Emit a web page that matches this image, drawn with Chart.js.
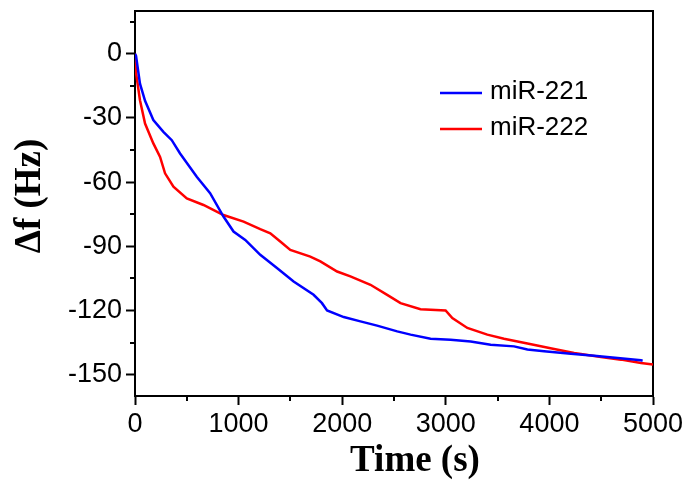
<!DOCTYPE html>
<html>
<head>
<meta charset="utf-8">
<script src="https://cdn.jsdelivr.net/npm/chart.js@4.4.1/dist/chart.umd.min.js"></script>
<style>
  html, body { margin: 0; padding: 0; background: #fff; }
  #wrap { width: 686px; height: 481px; }
</style>
</head>
<body>
<div id="wrap"><canvas id="qcm"></canvas></div>
<script>
// frequency shift vs time
const seriesNames = ['miR-221', 'miR-222'];
const seriesColors = ['#0000ff', '#ff0000'];

const timeA = [0, 10, 48, 97, 177, 274, 355, 435, 596, 725, 854, 951, 1064, 1209, 1370, 1531,
  1724, 1805, 1854, 2015, 2176, 2337, 2531, 2660, 2853, 3046, 3240, 3433, 3659, 3788, 3949,
  4207, 4433, 4659, 4884, 4900];
const shiftA = [0, -1, -14, -22, -31, -36.5, -40.4, -46.6, -57.5, -65.2, -76.1, -83.1, -87, -94,
  -100.2, -106.5, -112.7, -116.6, -120, -123.1, -125.1, -127.1, -129.8, -131.3, -133.2, -133.7,
  -134.5, -136, -136.8, -138.3, -139.1, -140.2, -141.2, -142.2, -143.3, -143.5];

const timeB = [0, 10, 48, 97, 177, 242, 290, 371, 500, 661, 854, 1048, 1209, 1306, 1402, 1499,
  1692, 1789, 1951, 2079, 2273, 2434, 2563, 2756, 2998, 3063, 3208, 3401, 3562, 3788, 4046,
  4239, 4497, 4691, 4884, 5000];
const shiftB = [0, -9, -21.7, -32.6, -41.9, -48.2, -55.9, -62.1, -67.6, -70.7, -75.4, -78.5, -82,
  -83.9, -87.8, -91.7, -94.8, -97.1, -101.8, -104.1, -108, -112.7, -116.6, -119.4, -120, -123.6,
  -128.2, -131.3, -133.2, -135.5, -138, -139.9, -141.8, -143, -144.6, -145.3];

// major (labelled) and minor ticks
const xTicks = [0, 1000, 2000, 3000, 4000, 5000];
const xMinor = [500, 1500, 2500, 3500, 4500];
const yTicks = [-150, -120, -90, -60, -30, 0];
const yMinor = [-135, -105, -75, -45, -15, 15];

const xTitle = 'Time (s)';
const yTitle = 'Δf (Hz)';

function pts(xs, ys) {
  return xs.map((x, i) => ({ x: x, y: ys[i] }));
}

const tickFont = { family: 'Liberation Sans, Arial, sans-serif', size: 27 };
const titleFont = 'bold 37px "Liberation Serif", "Times New Roman", serif';

// short minor ticks, axis titles and the legend box
const decor = {
  id: 'decor',
  afterDraw(chart) {
    const ctx = chart.ctx;
    const area = chart.chartArea;
    const xs = chart.scales.x, ys = chart.scales.y;
    ctx.save();
    ctx.strokeStyle = '#000';
    ctx.lineWidth = 2;
    xMinor.forEach((v) => {
      const px = Math.round(xs.getPixelForValue(v));
      ctx.beginPath();
      ctx.moveTo(px, area.bottom);
      ctx.lineTo(px, area.bottom + 5);
      ctx.stroke();
    });
    yMinor.forEach((v) => {
      const py = Math.round(ys.getPixelForValue(v));
      ctx.beginPath();
      ctx.moveTo(area.left - 5, py);
      ctx.lineTo(area.left, py);
      ctx.stroke();
    });

    ctx.fillStyle = '#000';
    ctx.font = titleFont;
    ctx.textAlign = 'center';
    ctx.textBaseline = 'middle';
    ctx.fillText(xTitle, 415, 461);
    ctx.save();
    ctx.translate(30, 196);
    ctx.rotate(-Math.PI / 2);
    ctx.fillText(yTitle, 0, 0);
    ctx.restore();

    ctx.font = '26px "Liberation Sans", Arial, sans-serif';
    ctx.textAlign = 'left';
    ctx.textBaseline = 'alphabetic';
    chart.data.datasets.forEach((ds, i) => {
      const ly = 93 + i * 36;
      ctx.strokeStyle = ds.borderColor;
      ctx.lineWidth = 2.5;
      ctx.beginPath();
      ctx.moveTo(440, ly);
      ctx.lineTo(482, ly);
      ctx.stroke();
      ctx.fillText(ds.label, 490, ly + 6);
    });
    ctx.restore();
  }
};

new Chart(document.getElementById('qcm'), {
  type: 'line',
  data: {
    datasets: [
      { label: seriesNames[0], data: pts(timeA, shiftA), borderColor: seriesColors[0] },
      { label: seriesNames[1], data: pts(timeB, shiftB), borderColor: seriesColors[1] }
    ]
  },
  options: {
    responsive: true,
    maintainAspectRatio: false,
    animation: false,
    layout: { padding: { top: 11, right: 33, left: 0, bottom: 0 } },
    elements: {
      line: { borderWidth: 2.5, tension: 0, fill: false },
      point: { radius: 0 }
    },
    plugins: { legend: { display: false }, tooltip: { enabled: false } },
    scales: {
      x: {
        type: 'linear', position: 'bottom', min: 0, max: 5000,
        afterFit: (s) => { s.height = 85; s.paddingLeft = 0; s.paddingRight = 0; },
        afterBuildTicks: (s) => { s.ticks = xTicks.map((v) => ({ value: v })); },
        grid: { drawOnChartArea: false, tickLength: 9, tickWidth: 2, tickColor: '#000' },
        border: { color: '#000', width: 2 },
        ticks: {
          maxRotation: 0, autoSkip: false, padding: 3,
          color: '#000', font: tickFont,
          callback: (v) => String(v)
        }
      },
      y: {
        type: 'linear', position: 'left', min: -160, max: 20,
        afterFit: (s) => { s.width = 135; s.paddingTop = 0; s.paddingBottom = 0; },
        afterBuildTicks: (s) => { s.ticks = yTicks.map((v) => ({ value: v })); },
        grid: { drawOnChartArea: false, tickLength: 9, tickWidth: 2, tickColor: '#000' },
        border: { color: '#000', width: 2 },
        ticks: {
          autoSkip: false, padding: 4,
          color: '#000', font: tickFont,
          callback: (v) => String(v)
        }
      },
      x2: {
        type: 'linear', position: 'top', min: 0, max: 5000,
        afterFit: (s) => { s.height = 0; },
        grid: { drawOnChartArea: false, drawTicks: false },
        border: { color: '#000', width: 2 },
        ticks: { display: false }
      },
      y2: {
        type: 'linear', position: 'right', min: -160, max: 20,
        afterFit: (s) => { s.width = 0; },
        grid: { drawOnChartArea: false, drawTicks: false },
        border: { color: '#000', width: 2 },
        ticks: { display: false }
      }
    }
  },
  plugins: [decor]
});
</script>
</body>
</html>
